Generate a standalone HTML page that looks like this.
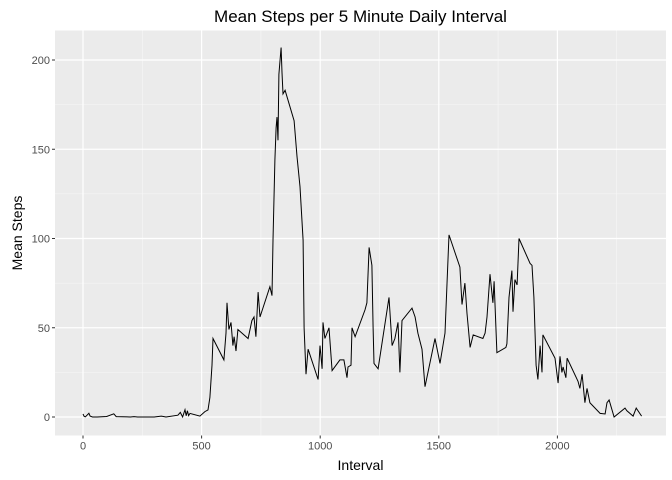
<!DOCTYPE html>
<html><head><meta charset="utf-8"><style>
body{margin:0;background:#fff;}
svg{display:block;font-family:"Liberation Sans",sans-serif;}
</style></head><body>
<svg id="chart" width="672" height="480" viewBox="0 0 672 480"></svg>
<script>
const intervals=[0,5,10,25,30,40,60,100,130,140,200,215,230,300,330,350,400,410,420,430,435,440,445,451,493,514,527,535,544,548,594,603,607,615,624,632,637,645,653,696,712,721,729,738,746,788,797,801,809,814,818,822,826,835,839,843,852,890,902,915,928,932,940,949,991,999,1008,1012,1020,1037,1050,1083,1096,1100,1113,1117,1130,1134,1147,1189,1197,1206,1218,1223,1227,1244,1290,1303,1315,1328,1336,1345,1387,1400,1412,1429,1442,1484,1505,1526,1535,1543,1589,1598,1610,1619,1632,1645,1686,1695,1703,1716,1728,1733,1745,1783,1787,1796,1808,1813,1821,1830,1838,1885,1893,1901,1910,1918,1927,1935,1939,1990,2003,2011,2019,2024,2036,2041,2087,2095,2104,2116,2125,2137,2180,2201,2209,2218,2239,2285,2293,2319,2332,2355];
const meanSteps=[1.7,0.3,0.1,2.1,0.5,0,0,0.3,1.8,0.2,0,0.2,0,0,0.5,0,1,2.6,0,4.1,0.7,3.5,0.8,2,0.5,3,4,11,29,44,32,47,64,49,53,40,45,37,49,44,54,56,45,70,56,73,68,99,144,162,168,155,192,207,193,181,183,166,146,129,99,50,24,38,21,40,27,53,44,50,26,32,32,32,22,28,29,50,45,60,64,95,85,50,30,27,67,40,44,53,25,54,61,56,47,38,17,44,30,47,76,102,84,63,75,58,39,46,44,47,56,80,64,76,36,39,41,67,82,59,77,74,100,86,85,67,29,21,40,25,46,33,19,34,25,28,22,33,20,16,24,8,16,8,2,1.7,8,9.5,0,5,3.5,0.5,5,0.5,1];
const xTicks=[0,500,1000,1500,2000];
const yTicks=[0,50,100,150,200];
const xMinor=[250,750,1250,1750,2250];
const yMinor=[25,75,125,175];

const svg=document.getElementById('chart');
const NS='http://www.w3.org/2000/svg';
const L=55,R=666,T=30.5,B=435.5;
const X=v=>83+v*0.2372;
const Y=v=>417-v*1.785;
function el(t,a){const e=document.createElementNS(NS,t);for(const k in a)e.setAttribute(k,a[k]);svg.appendChild(e);return e;}
const bg=el('rect',{x:L,y:T,width:R-L,height:B-T,fill:'#ebebeb'});


xMinor.forEach(v=>{const g=el('line',{x1:X(v),x2:X(v),y1:T,y2:B,stroke:'#f7f7f7','stroke-width':0.6});

});
yMinor.forEach(v=>{const g=el('line',{x1:L,x2:R,y1:Y(v),y2:Y(v),stroke:'#f7f7f7','stroke-width':0.6});

});
xTicks.forEach(v=>{const g=el('line',{x1:X(v),x2:X(v),y1:T,y2:B,stroke:'#fff','stroke-width':1.2});


el('line',{x1:X(v),x2:X(v),y1:B,y2:B+3,stroke:'#333'});
const t=el('text',{x:X(v),y:B+14,'text-anchor':'middle','font-size':11,fill:'#4d4d4d'});t.textContent=v;

});
yTicks.forEach(v=>{const g=el('line',{x1:L,x2:R,y1:Y(v),y2:Y(v),stroke:'#fff','stroke-width':1.2});


el('line',{x1:L-3,x2:L,y1:Y(v),y2:Y(v),stroke:'#333'});
const t=el('text',{x:L-5,y:Y(v)+4,'text-anchor':'end','font-size':11,fill:'#4d4d4d'});t.textContent=v;

});
const d=intervals.map((v,i)=>(i?'L':'M')+X(v).toFixed(1)+' '+Y(meanSteps[i]).toFixed(1)).join(' ');
const p=el('path',{d:d,fill:'none',stroke:'#000','stroke-width':1});


const tt=el('text',{x:(L+R)/2,y:22,'text-anchor':'middle','font-size':17,fill:'#000'});tt.textContent='Mean Steps per 5 Minute Daily Interval';


const xt=el('text',{x:(L+R)/2,y:470,'text-anchor':'middle','font-size':14,fill:'#000'});xt.textContent='Interval';


const yt=el('text',{x:0,y:0,'text-anchor':'middle','font-size':14,fill:'#000',transform:'translate(22,'+((T+B)/2)+') rotate(-90)'});yt.textContent='Mean Steps';


</script>
</body></html>
